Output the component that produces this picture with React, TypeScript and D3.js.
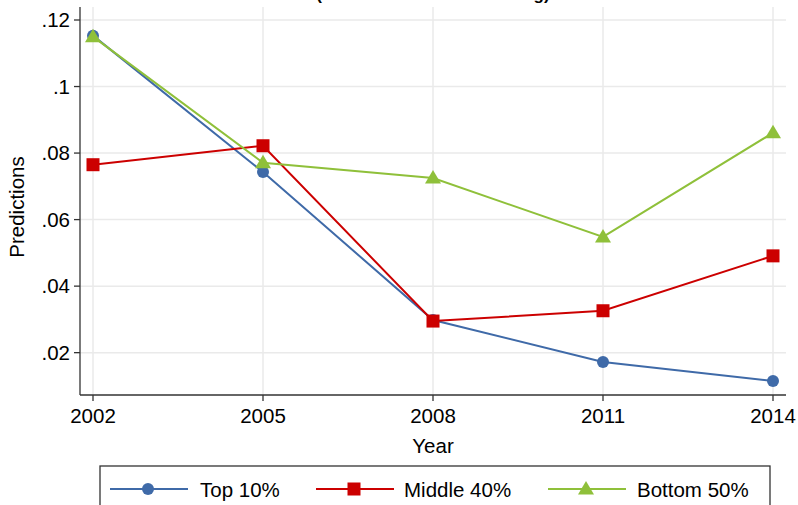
import React from "react";
import * as d3 from "d3";

const years = [2002, 2005, 2008, 2011, 2014];
const top10 = [0.1153, 0.0743, 0.0298, 0.0172, 0.0115];
const middle40 = [0.0765, 0.0822, 0.0295, 0.0326, 0.0491];
const bottom50 = [0.1150, 0.0771, 0.0725, 0.0548, 0.0861];
const yTicks = [0.02, 0.04, 0.06, 0.08, 0.1, 0.12];
const yTickLabels = [".02", ".04", ".06", ".08", ".1", ".12"];
const seriesNames = ["Top 10%", "Middle 40%", "Bottom 50%"];
const seriesColors = ["#3f6aa8", "#cc0000", "#8fc03a"];
const seriesShapes = ["circle", "square", "triangle"];
const titleText = "(Relative to Income Ranking)";

const W = 798, H = 505;
const left = 80, right = 786, top = 7, bottom = 395;
const FONT = "'Liberation Sans', Arial, sans-serif";
const FS = 20.5;

function Marker({ shape, x, y, color }: { shape: string; x: number; y: number; color: string }) {
  if (shape === "circle") return <circle cx={x} cy={y} r={6} fill={color} />;
  if (shape === "square") return <rect x={x - 6.5} y={y - 6.5} width={13} height={13} fill={color} />;
  const s = 8;
  return <path d={`M${x},${y - s}L${x + s},${y + s * 0.7}L${x - s},${y + s * 0.7}Z`} fill={color} />;
}

export default function App() {
  const x = d3.scaleLinear().domain([2002, 2014]).range([93, 773]);
  const y = d3.scaleLinear().domain([0, 0.12]).range([419.2, 20]);
  const series = [top10, middle40, bottom50];
  const line = d3.line<number>().x((_, i) => x(years[i])).y((d) => y(d));

  const legendItems = [
    { lx: 110, tx: 200 },
    { lx: 316, tx: 404 },
    { lx: 548, tx: 637 },
  ];
  const ly = 489;

  return (
    <svg width={W} height={H} style={{ position: "absolute", left: 0, top: 0, background: "#fff" }} fontFamily={FONT}>
      <rect x={0} y={0} width={W} height={H} fill="#fff" />
      <text x={433} y={0} textAnchor="middle" fontSize={17} fontWeight="bold" fill="#000">{titleText}</text>
      {yTicks.map((t) => (
        <line key={"gy" + t} x1={left} x2={right} y1={y(t)} y2={y(t)} stroke="#eaeaea" strokeWidth={1.5} />
      ))}
      {years.map((t) => (
        <line key={"gx" + t} x1={x(t)} x2={x(t)} y1={top} y2={bottom} stroke="#eaeaea" strokeWidth={1.5} />
      ))}
      <line x1={left} x2={left} y1={top} y2={bottom} stroke="#333" strokeWidth={1.3} />
      <line x1={left} x2={right} y1={bottom} y2={bottom} stroke="#333" strokeWidth={1.3} />
      {yTicks.map((t, i) => (
        <g key={"ty" + t}>
          <line x1={left - 6} x2={left} y1={y(t)} y2={y(t)} stroke="#333" strokeWidth={1.3} />
          <text x={left - 10} y={y(t) + 7} textAnchor="end" fontSize={FS} fill="#000">{yTickLabels[i]}</text>
        </g>
      ))}
      {years.map((t) => (
        <g key={"tx" + t}>
          <line x1={x(t)} x2={x(t)} y1={bottom} y2={bottom + 6} stroke="#333" strokeWidth={1.3} />
          <text x={x(t)} y={bottom + 28} textAnchor="middle" fontSize={FS} fill="#000">{t}</text>
        </g>
      ))}
      <text x={433} y={453} textAnchor="middle" fontSize={FS} fill="#000">Year</text>
      <text transform={`translate(24,${(top + bottom) / 2 + 6}) rotate(-90)`} textAnchor="middle" fontSize={FS} fill="#000">Predictions</text>
      {series.map((s, k) => (
        <g key={"s" + k}>
          <path d={line(s) || ""} fill="none" stroke={seriesColors[k]} strokeWidth={2} />
          {s.map((v, i) => (
            <Marker key={i} shape={seriesShapes[k]} x={x(years[i])} y={y(v)} color={seriesColors[k]} />
          ))}
        </g>
      ))}
      <rect x={100} y={466} width={670} height={60} fill="#fff" stroke="#333" strokeWidth={1.3} />
      {legendItems.map((it, k) => (
        <g key={"l" + k}>
          <line x1={it.lx} x2={it.lx + 78} y1={ly} y2={ly} stroke={seriesColors[k]} strokeWidth={2} />
          <Marker shape={seriesShapes[k]} x={it.lx + 38} y={ly} color={seriesColors[k]} />
          <text x={it.tx} y={ly + 7.5} fontSize={FS} fill="#000">{seriesNames[k]}</text>
        </g>
      ))}
    </svg>
  );
}
